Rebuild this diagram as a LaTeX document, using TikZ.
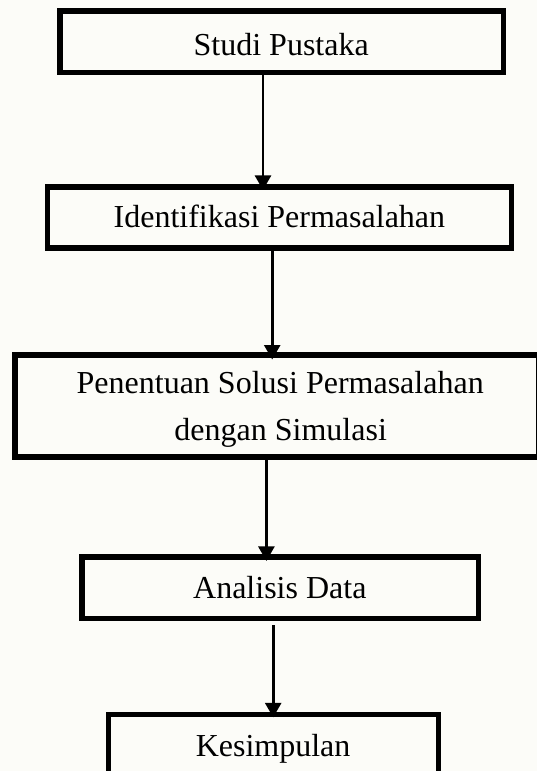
\documentclass[tikz,border=0pt]{standalone}
\usepackage{fontspec}
\setmainfont{Liberation Serif}
\usetikzlibrary{arrows.meta}
\definecolor{bgc}{RGB}{252,252,248}
\begin{document}
\begin{tikzpicture}[x=1pt,y=-1pt,
  box/.style={draw=black, line width=5.3pt, inner sep=0pt, outer sep=0pt},
  txt/.style={anchor=base, inner sep=0pt, font=\fontsize{32}{38}\selectfont},
  arr/.style={line width=2.6pt, -{Triangle[width=16pt,length=14.5pt]}}
]
\fill[bgc] (0,0) rectangle (537,771);
\useasboundingbox (0,0) rectangle (537,771);
\begin{scope}
\clip (0,0) rectangle (537,771);
% boxes
\node[box, minimum width=443.7pt, minimum height=61.65pt] (s1) at (281.8,41.8) {};
\node[box, minimum width=464pt, minimum height=61.1pt] (s2) at (279.65,217.5) {};
\node[box, minimum width=524pt, minimum height=102.1pt] (s3) at (277,406.05) {};
\node[box, minimum width=396.4pt, minimum height=61.4pt] (s4) at (280.15,587.65) {};
\node[box, minimum width=330.3pt, minimum height=63.65pt] (s5) at (273.5,746.2) {};
% texts
\node[txt] (t1) at (281.2,55.6) {Studi Pustaka};
\node[txt] (t2) at (279.4,227.3) {Identifikasi Permasalahan};
\node[txt] (t3a) at (280.2,393.5) {Penentuan Solusi Permasalahan};
\node[txt] (t3b) at (280.7,440) {dengan Simulasi};
\node[txt] (t4) at (279.8,598.3) {Analisis Data};
\node[txt] (t5) at (273.1,756.7) {Kesimpulan};
% connector columns
\coordinate (c1) at (263,0);
\coordinate (c2) at (272.2,0);
\coordinate (c3) at (266.4,0);
\coordinate (c4) at (273.2,0);
% arrows
\draw[arr, shorten >=-3pt] (c1 |- s1.south) -- (c1 |- s2.north);
\draw[arr, shorten >=-4.5pt] (c2 |- s2.south) -- (c2 |- s3.north);
\draw[arr, shorten >=-4pt] (c3 |- s3.south) -- (c3 |- s4.north);
\draw[arr, shorten <=7pt, shorten >=-3pt] (c4 |- s4.south) -- (c4 |- s5.north);
\end{scope}
\end{tikzpicture}
\end{document}
